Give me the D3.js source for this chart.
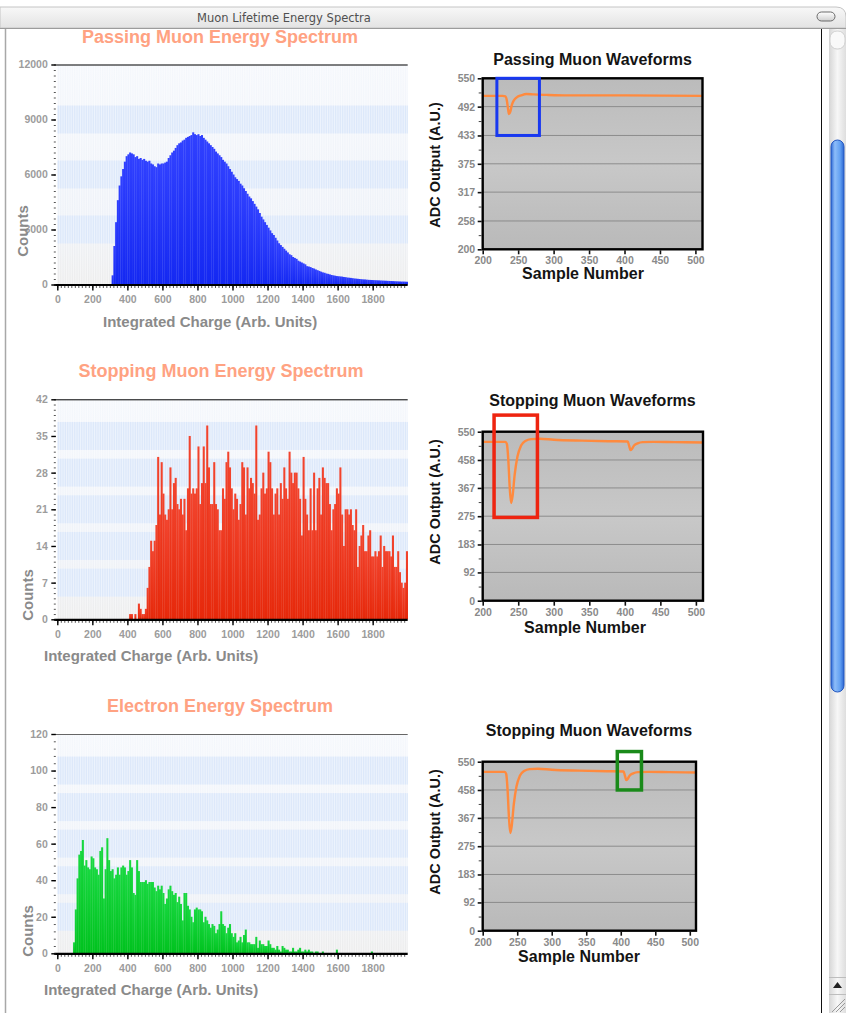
<!DOCTYPE html>
<html>
<head>
<meta charset="utf-8">
<title>Muon Lifetime Energy Spectra</title>
<script src="https://cdn.jsdelivr.net/npm/d3@7"></script>
<style>
    body { margin: 0; background: #fff; }
    svg { display: block; }
</style>
</head>
<body>
<svg></svg>
<script>

// each histogram bin is 10 charge units wide, bin i starts at i*10
let binWidth = 10
let chargeTicks = [0, 200, 400, 600, 800, 1000, 1200, 1400, 1600, 1800]

let passingCounts = [
    0, 0, 0, 0, 0, 0, 0, 0, 0, 0,
    0, 0, 0, 0, 0, 0, 0, 0, 0, 0,
    0, 0, 0, 0, 0, 0, 0, 0, 0, 0,
    0, 500, 2100, 3400, 4600, 5400, 5900, 6300, 6700, 7000,
    7100, 7200, 7150, 7100, 6950, 7000, 6850, 6900, 6800, 6850,
    6750, 6700, 6750, 6600, 6550, 6450, 6400, 6600, 6550, 6600,
    6600, 6650, 6700, 6900, 7050, 7200, 7300, 7450, 7600, 7700,
    7750, 7850, 7900, 8000, 8050, 8100, 8150, 8300, 8200, 8150,
    8200, 8100, 8150, 8000, 7900, 7800, 7700, 7600, 7500, 7400,
    7250, 7150, 7050, 6950, 6800, 6700, 6600, 6450, 6300, 6150,
    6000, 5850, 5750, 5650, 5500, 5400, 5250, 5100, 4950, 4800,
    4700, 4550, 4400, 4250, 4100, 3900, 3700, 3550, 3400, 3250,
    3100, 2950, 2800, 2700, 2550, 2400, 2250, 2150, 2050, 1950,
    1850, 1750, 1650, 1600, 1500, 1450, 1400, 1300, 1250, 1200,
    1150, 1100, 1000, 980, 950, 900, 870, 820, 780, 740,
    700, 660, 640, 600, 580, 550, 520, 500, 480, 460,
    450, 440, 430, 410, 400, 380, 370, 360, 345, 330,
    320, 310, 300, 290, 280, 275, 265, 255, 250, 245,
    240, 235, 230, 225, 220, 215, 210, 205, 200, 195,
    190, 185, 180, 175, 170, 165, 160, 160, 155, 150
]

let stoppingCounts = [
    0, 0, 0, 0, 0, 0, 0, 0, 0, 0,
    0, 0, 0, 0, 0, 0, 0, 0, 0, 0,
    0, 0, 0, 0, 0, 0, 0, 0, 0, 0,
    0, 0, 0, 0, 0, 0, 0, 0, 0, 0,
    0, 1, 1, 0, 1, 0, 3, 2, 1, 1,
    2, 6, 10, 15, 13, 15, 18, 31, 20, 30,
    24, 20, 19, 21, 29, 21, 26, 27, 22, 21,
    23, 20, 23, 17, 25, 35, 24, 25, 24, 25,
    33, 22, 26, 33, 26, 37, 29, 22, 22, 30,
    22, 21, 17, 17, 25, 23, 30, 32, 29, 25,
    21, 24, 23, 19, 22, 30, 29, 20, 29, 25,
    27, 26, 24, 37, 19, 20, 25, 28, 24, 25,
    32, 30, 25, 20, 24, 25, 20, 26, 23, 29,
    25, 23, 32, 28, 26, 28, 28, 25, 23, 16,
    31, 23, 20, 17, 25, 17, 28, 17, 25, 27,
    20, 29, 27, 26, 26, 22, 17, 21, 22, 25,
    24, 29, 20, 14, 21, 21, 20, 21, 18, 17,
    21, 10, 14, 16, 18, 13, 13, 16, 17, 12,
    12, 13, 12, 13, 16, 10, 14, 13, 13, 13,
    12, 16, 10, 10, 13, 9, 7, 6, 7, 13
]

let electronCounts = [
    0, 0, 0, 0, 0, 0, 0, 0, 0, 6,
    24, 41, 54, 56, 62, 48, 51, 47, 46, 53,
    52, 47, 46, 43, 56, 58, 30, 46, 63, 51,
    45, 46, 41, 43, 47, 43, 47, 48, 47, 43,
    45, 51, 47, 33, 32, 51, 45, 39, 39, 39,
    40, 38, 39, 39, 39, 36, 34, 37, 35, 37,
    33, 27, 30, 35, 37, 34, 32, 33, 28, 31,
    27, 18, 33, 33, 26, 24, 20, 17, 24, 25,
    24, 24, 23, 17, 20, 18, 16, 14, 16, 15,
    11, 13, 16, 23, 16, 15, 11, 14, 16, 11,
    9, 11, 6, 7, 9, 6, 10, 13, 6, 6,
    5, 5, 5, 9, 3, 7, 5, 5, 4, 4,
    7, 5, 3, 3, 2, 4, 2, 1, 4, 3,
    2, 2, 1, 1, 3, 1, 1, 2, 3, 1,
    1, 2, 1, 2, 1, 1, 0, 1, 1, 0,
    0, 1, 0, 0, 0, 0, 0, 0, 0, 2,
    0, 0, 0, 0, 0, 0, 0, 0, 0, 0,
    0, 0, 0, 0, 0, 0, 0, 0, 0, 1,
    0, 0, 0, 0, 0, 0, 0, 0, 0, 0,
    0, 0, 0, 0, 0, 0, 0, 0, 0, 0
]

let passingCountTicks = [0, 3000, 6000, 9000, 12000]
let stoppingCountTicks = [0, 7, 14, 21, 28, 35, 42]
let electronCountTicks = [0, 20, 40, 60, 80, 100, 120]

// waveforms (sample number, ADC value)
let sampleTicks = [200, 250, 300, 350, 400, 450, 500]
let passingAdcTicks = [200, 258, 317, 375, 433, 492, 550]
let stoppingAdcTicks = [0, 92, 183, 275, 367, 458, 550]

let passingWaveSamples = [200, 228, 232, 234, 236, 237, 239, 241, 244, 248, 254, 262, 272, 290, 320, 400, 510]
let passingWaveAdc = [514, 514, 513, 505, 485, 477, 482, 495, 505, 511, 515, 518, 517, 516, 515, 515, 514]

let stoppingWaveSamples = [200, 232, 234, 236, 238, 240, 242, 245, 249, 254, 260, 268, 280, 300, 340, 380, 404, 406, 408, 410, 413, 418, 425, 440, 470, 510]
let stoppingWaveAdc = [517, 517, 510, 460, 370, 318, 340, 410, 470, 505, 520, 526, 527, 524, 521, 519, 518, 505, 490, 494, 505, 512, 516, 517, 516, 515]

// highlight boxes: [first sample, last sample], [low ADC, high ADC]
let passingBoxSamples = [220, 280]
let passingBoxAdc = [433, 550]
let stoppingBoxSamples = [216, 277]
let stoppingBoxAdc = [271, 604]
let electronBoxSamples = [395, 430]
let electronBoxAdc = [458, 583]

let width = 846
let height = 1013
let font = "'Liberation Sans', Arial, Helvetica, sans-serif"

let svg = d3.select('svg')

let drawCanvas = () => {
    svg.attr('width', width)
    svg.attr('height', height)

    let defs = svg.append('defs')
    let addGradient = (id, stops, vertical = true) => {
        let grad = defs.append('linearGradient')
                       .attr('id', id)
                       .attr('x1', 0).attr('y1', 0)
                       .attr('x2', vertical ? 0 : 1)
                       .attr('y2', vertical ? 1 : 0)
        stops.forEach(s => {
            grad.append('stop').attr('offset', s[0]).attr('stop-color', s[1])
        })
    }
    addGradient('blueBar', [[0, '#3040ff'], [1, '#1428f2']])
    addGradient('redBar', [[0, '#f2442e'], [1, '#e6280a']])
    addGradient('greenBar', [[0, '#18d840'], [1, '#00c21e']])
    addGradient('plotBg', [[0, '#f4f7fc'], [0.7, '#edf1f8'], [1, '#ebebeb']])
    addGradient('waveBg', [[0, '#bbbbbb'], [0.5, '#c8c8c8'], [1, '#b9b9b9']])
    addGradient('titleBar', [[0, '#f8f8f8'], [1, '#e3e3e3']])
    addGradient('track', [[0, '#d6d6d6'], [0.5, '#f7f7f7'], [1, '#dedede']], false)
    addGradient('thumb', [[0, '#2f6ad6'], [0.3, '#8dbdf9'], [0.7, '#62a0f2'], [1, '#2c66d2']], false)
    addGradient('oval', [[0, '#ffffff'], [1, '#cfcfcf']])

    svg.append('rect')
       .attr('width', width)
       .attr('height', height)
       .attr('fill', '#fff')
}

let drawWindow = () => {
    svg.append('path')
       .attr('d', 'M0,7 H836 Q846,7 846,17 V28 H0 Z')
       .attr('fill', 'url(#titleBar)')
       .attr('stroke', '#c4c4c4')
       .attr('stroke-width', 1)

    svg.append('line')
       .attr('x1', 0).attr('x2', width)
       .attr('y1', 28.5).attr('y2', 28.5)
       .attr('stroke', '#9c9c9c')

    svg.append('text')
       .attr('x', 284)
       .attr('y', 22)
       .attr('text-anchor', 'middle')
       .style('font-family', "'DejaVu Sans', sans-serif")
       .style('font-size', '11.5px')
       .attr('fill', '#505050')
       .text('Muon Lifetime Energy Spectra')

    svg.append('rect')
       .attr('x', 817).attr('y', 12)
       .attr('width', 18).attr('height', 9)
       .attr('rx', 4.5)
       .attr('fill', 'url(#oval)')
       .attr('stroke', '#6a6a6a')

    svg.append('line')
       .attr('x1', 5.5).attr('x2', 5.5)
       .attr('y1', 29).attr('y2', height)
       .attr('stroke', '#a8a8a8')
       .attr('stroke-width', 1.5)

    svg.append('line')
       .attr('x1', 821.5).attr('x2', 821.5)
       .attr('y1', 29).attr('y2', height)
       .attr('stroke', '#111')

    svg.append('rect')
       .attr('x', 829).attr('y', 29)
       .attr('width', 17).attr('height', height - 29)
       .attr('fill', 'url(#track)')

    svg.append('rect')
       .attr('x', 830).attr('y', 31)
       .attr('width', 15).attr('height', 18)
       .attr('rx', 7)
       .attr('fill', '#f9f9f9')
       .attr('stroke', '#d0d0d0')

    svg.append('rect')
       .attr('x', 831).attr('y', 140)
       .attr('width', 13).attr('height', 552)
       .attr('rx', 6.5)
       .attr('fill', 'url(#thumb)')
       .attr('stroke', '#2558c0')

    svg.append('line')
       .attr('x1', 829).attr('x2', width)
       .attr('y1', 977.5).attr('y2', 977.5)
       .attr('stroke', '#bdbdbd')

    svg.append('path')
       .attr('d', 'M833,988 L837.5,982 L842,988 Z')
       .attr('fill', '#222')

    svg.append('line')
       .attr('x1', 829).attr('x2', width)
       .attr('y1', 994.5).attr('y2', 994.5)
       .attr('stroke', '#bdbdbd')

    svg.selectAll('line.grip')
       .data([0, 4, 8])
       .enter()
       .append('line')
       .attr('class', 'grip')
       .attr('x1', d => 832 + d).attr('y1', 1012)
       .attr('x2', 845).attr('y2', d => 999 + d)
       .attr('stroke', '#999')
}

let drawHistogram = (h) => {
    let xScale = d3.scaleLinear()
                   .domain([0, 2000])
                   .range([h.left, h.right])
    let yScale = d3.scaleLinear()
                   .domain([0, h.ticks[h.ticks.length - 1]])
                   .range([h.bottom, h.top])

    let g = svg.append('g')
    let plotW = h.right - h.left

    g.append('rect')
     .attr('x', h.left).attr('y', h.top)
     .attr('width', plotW).attr('height', h.bottom - h.top)
     .attr('fill', 'url(#plotBg)')

    g.selectAll('rect.band')
     .data(h.ticks.slice(1, -1))
     .enter()
     .append('rect')
     .attr('class', 'band')
     .attr('x', h.left)
     .attr('width', plotW)
     .attr('y', d => yScale(d) - 14)
     .attr('height', 28)
     .attr('fill', '#d9e6fa')

    g.selectAll('line.stripe')
     .data(d3.range(0, 2000, binWidth))
     .enter()
     .append('line')
     .attr('class', 'stripe')
     .attr('x1', d => xScale(d) + 0.4)
     .attr('x2', d => xScale(d) + 0.4)
     .attr('y1', h.top)
     .attr('y2', h.bottom)
     .attr('stroke', '#ffffff')
     .attr('stroke-opacity', 0.65)
     .attr('stroke-width', 0.8)

    g.selectAll('rect.bar')
     .data(h.counts)
     .enter()
     .append('rect')
     .attr('class', 'bar')
     .attr('x', (d, i) => xScale(i * binWidth))
     .attr('width', xScale(binWidth) - xScale(0) + 0.3)
     .attr('y', d => yScale(d))
     .attr('height', d => h.bottom - yScale(d))
     .attr('fill', h.fill)

    g.append('line')
     .attr('x1', h.left - 3).attr('x2', h.right)
     .attr('y1', h.top + 0.5).attr('y2', h.top + 0.5)
     .attr('stroke', h.topColor)

    let xMinor = d3.axisBottom(xScale)
                   .tickValues(d3.range(0, 2000, 20))
                   .tickSize(2.5)
                   .tickFormat('')
    let xAxis = d3.axisBottom(xScale)
                  .tickValues(chargeTicks)
                  .tickSize(5)
                  .tickPadding(5)
                  .tickFormat(d3.format('d'))

    g.append('g')
     .attr('class', 'minor')
     .attr('transform', 'translate(0, ' + (h.bottom + 1) + ')')
     .call(xMinor)
    g.append('g')
     .attr('class', 'major')
     .attr('transform', 'translate(0, ' + (h.bottom + 1) + ')')
     .call(xAxis)

    g.append('line')
     .attr('x1', h.left - 3).attr('x2', h.right)
     .attr('y1', h.bottom + 0.5).attr('y2', h.bottom + 0.5)
     .attr('stroke', '#000')
     .attr('stroke-width', 2.2)

    let yMinor = d3.axisLeft(yScale)
                   .tickValues(d3.range(0, h.ticks[h.ticks.length - 1], h.minorStep))
                   .tickSize(2)
                   .tickFormat('')
    let yAxis = d3.axisLeft(yScale)
                  .tickValues(h.ticks)
                  .tickSize(4.5)
                  .tickPadding(3.5)
                  .tickFormat(d3.format('d'))

    g.append('g')
     .attr('class', 'minor')
     .attr('transform', 'translate(' + (h.left - 1.5) + ', 0)')
     .call(yMinor)
    g.append('g')
     .attr('class', 'major')
     .attr('transform', 'translate(' + (h.left - 1.5) + ', 0)')
     .call(yAxis)

    g.selectAll('.domain').remove()
    g.selectAll('.minor line').attr('stroke', '#555')
    g.selectAll('.major line').attr('stroke', '#000').attr('stroke-width', 1.4)
    g.selectAll('.major text')
     .style('font-family', font)
     .style('font-size', '10.5px')
     .style('font-weight', 'bold')
     .attr('fill', '#9c9c9c')

    g.append('text')
     .attr('x', h.titleX)
     .attr('y', h.titleY)
     .attr('text-anchor', 'middle')
     .style('font-family', font)
     .style('font-size', '18px')
     .style('font-weight', 'bold')
     .attr('fill', '#ffa282')
     .text(h.title)

    g.append('text')
     .attr('x', h.xLabelX)
     .attr('y', h.xLabelY)
     .style('font-family', font)
     .style('font-size', '15px')
     .style('font-weight', 'bold')
     .attr('fill', '#8a8a8a')
     .text('Integrated Charge (Arb. Units)')

    g.append('text')
     .attr('transform', 'translate(' + h.yLabelX + ', ' + h.yLabelY + ') rotate(-90)')
     .attr('text-anchor', 'middle')
     .style('font-family', font)
     .style('font-size', '15px')
     .style('font-weight', 'bold')
     .attr('fill', '#8a8a8a')
     .text('Counts')
}

let drawWaveform = (w) => {
    let xScale = d3.scaleLinear()
                   .domain(w.xDomain)
                   .range([w.left, w.right])
    let yScale = d3.scaleLinear()
                   .domain([w.yTicks[0], w.yTicks[w.yTicks.length - 1]])
                   .range([w.bottom, w.top])

    let g = svg.append('g')

    g.append('rect')
     .attr('x', w.left).attr('y', w.top)
     .attr('width', w.right - w.left).attr('height', w.bottom - w.top)
     .attr('fill', 'url(#waveBg)')

    g.selectAll('line.grid')
     .data(w.yTicks.slice(1, -1))
     .enter()
     .append('line')
     .attr('class', 'grid')
     .attr('x1', w.left).attr('x2', w.right)
     .attr('y1', d => yScale(d)).attr('y2', d => yScale(d))
     .attr('stroke', '#8c8c8c')
     .attr('stroke-width', 1)

    let points = w.samples.map((s, i) => [s, w.adc[i]])
    let line = d3.line()
                 .x(d => xScale(d[0]))
                 .y(d => yScale(d[1]))
                 .curve(d3.curveMonotoneX)

    g.append('path')
     .datum(points)
     .attr('d', line)
     .attr('fill', 'none')
     .attr('stroke', '#ff8a3e')
     .attr('stroke-width', 2.4)
     .attr('stroke-linejoin', 'round')

    g.append('rect')
     .attr('x', w.left).attr('y', w.top)
     .attr('width', w.right - w.left).attr('height', w.bottom - w.top)
     .attr('fill', 'none')
     .attr('stroke', '#000')
     .attr('stroke-width', 2.4)

    g.append('rect')
     .attr('x', xScale(w.boxSamples[0]))
     .attr('y', yScale(w.boxAdc[1]))
     .attr('width', xScale(w.boxSamples[1]) - xScale(w.boxSamples[0]))
     .attr('height', yScale(w.boxAdc[0]) - yScale(w.boxAdc[1]))
     .attr('fill', 'none')
     .attr('stroke', w.boxColor)
     .attr('stroke-width', w.boxWidth)

    let xAxis = d3.axisBottom(xScale)
                  .tickValues(sampleTicks)
                  .tickSize(4)
                  .tickPadding(2.5)
    g.append('g')
     .attr('class', 'major')
     .attr('transform', 'translate(0, ' + (w.bottom + 1) + ')')
     .call(xAxis)

    let mids = w.yTicks.slice(1).map((t, i) => (t + w.yTicks[i]) / 2)
    let yMinor = d3.axisLeft(yScale)
                   .tickValues(mids)
                   .tickSize(3)
                   .tickFormat('')
    let yAxis = d3.axisLeft(yScale)
                  .tickValues(w.yTicks)
                  .tickSize(4)
                  .tickPadding(2.5)
    g.append('g')
     .attr('class', 'minor')
     .attr('transform', 'translate(' + (w.left - 1) + ', 0)')
     .call(yMinor)
    g.append('g')
     .attr('class', 'major')
     .attr('transform', 'translate(' + (w.left - 1) + ', 0)')
     .call(yAxis)

    g.selectAll('.domain').remove()
    g.selectAll('.minor line').attr('stroke', '#444')
    g.selectAll('.major line').attr('stroke', '#111').attr('stroke-width', 1.6)
    g.selectAll('.major text')
     .style('font-family', font)
     .style('font-size', '10.5px')
     .style('font-weight', 'bold')
     .attr('fill', '#8a8a8a')

    g.append('text')
     .attr('x', w.titleX)
     .attr('y', w.titleY)
     .attr('text-anchor', 'middle')
     .style('font-family', font)
     .style('font-size', '16px')
     .style('font-weight', 'bold')
     .attr('fill', '#141414')
     .text(w.title)

    g.append('text')
     .attr('x', w.xLabelX)
     .attr('y', w.xLabelY)
     .attr('text-anchor', 'middle')
     .style('font-family', font)
     .style('font-size', '16px')
     .style('font-weight', 'bold')
     .attr('fill', '#141414')
     .text('Sample Number')

    g.append('text')
     .attr('transform', 'translate(' + w.yLabelX + ', ' + w.yLabelY + ') rotate(-90)')
     .attr('text-anchor', 'middle')
     .style('font-family', font)
     .style('font-size', '14.5px')
     .style('font-weight', 'bold')
     .attr('fill', '#141414')
     .text('ADC Output (A.U.)')
}

drawCanvas()
drawWindow()

drawHistogram({
    counts: passingCounts, ticks: passingCountTicks, minorStep: 300, fill: 'url(#blueBar)',
    left: 57.3, right: 407.7, top: 64.5, bottom: 284.5, topColor: '#000',
    title: 'Passing Muon Energy Spectrum', titleX: 220, titleY: 43,
    xLabelX: 103, xLabelY: 327, yLabelX: 28, yLabelY: 231
})
drawHistogram({
    counts: stoppingCounts, ticks: stoppingCountTicks, minorStep: 1, fill: 'url(#redBar)',
    left: 57.3, right: 407.7, top: 399.3, bottom: 619.3, topColor: '#000',
    title: 'Stopping Muon Energy Spectrum', titleX: 221, titleY: 377,
    xLabelX: 44, xLabelY: 661, yLabelX: 33, yLabelY: 595
})
drawHistogram({
    counts: electronCounts, ticks: electronCountTicks, minorStep: 4, fill: 'url(#greenBar)',
    left: 57.3, right: 407.7, top: 734, bottom: 953.3, topColor: '#666',
    title: 'Electron Energy Spectrum', titleX: 220, titleY: 712,
    xLabelX: 44, xLabelY: 995, yLabelX: 33, yLabelY: 931
})

drawWaveform({
    samples: passingWaveSamples, adc: passingWaveAdc, yTicks: passingAdcTicks,
    boxSamples: passingBoxSamples, boxAdc: passingBoxAdc, boxColor: '#1838f0', boxWidth: 3,
    xDomain: [200, 510], left: 482.7, right: 702.5, top: 78.3, bottom: 249.3,
    title: 'Passing Muon Waveforms', titleX: 592.5, titleY: 65,
    xLabelX: 583, xLabelY: 279, yLabelX: 440, yLabelY: 165
})
drawWaveform({
    samples: stoppingWaveSamples, adc: stoppingWaveAdc, yTicks: stoppingAdcTicks,
    boxSamples: stoppingBoxSamples, boxAdc: stoppingBoxAdc, boxColor: '#ee2410', boxWidth: 3.5,
    xDomain: [200, 510], left: 482.7, right: 703, top: 431.7, bottom: 600.7,
    title: 'Stopping Muon Waveforms', titleX: 592.5, titleY: 406,
    xLabelX: 585, xLabelY: 633, yLabelX: 440, yLabelY: 502
})
drawWaveform({
    samples: stoppingWaveSamples, adc: stoppingWaveAdc, yTicks: stoppingAdcTicks,
    boxSamples: electronBoxSamples, boxAdc: electronBoxAdc, boxColor: '#1a8a1a', boxWidth: 3.5,
    xDomain: [200, 509], left: 482.7, right: 696, top: 761.7, bottom: 930.7,
    title: 'Stopping Muon Waveforms', titleX: 589, titleY: 736,
    xLabelX: 579, xLabelY: 962, yLabelX: 440, yLabelY: 832
})

</script>
</body>
</html>
